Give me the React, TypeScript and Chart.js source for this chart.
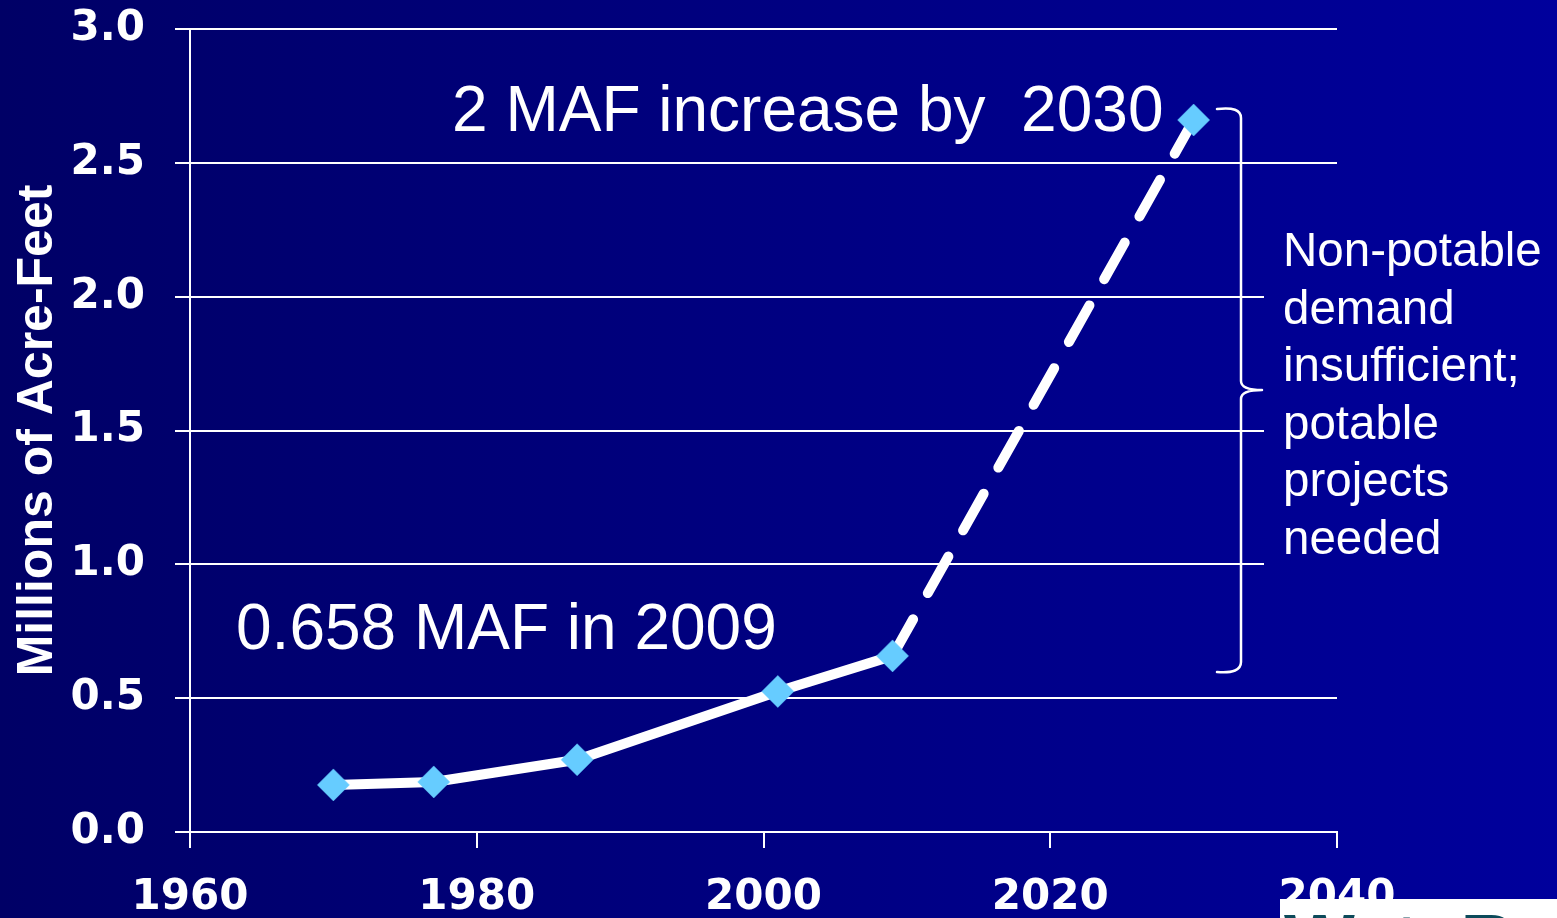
import React, { useEffect, useRef } from "react";
import { Chart, registerables } from "chart.js";

Chart.register(...registerables);

// ---- data ----
const years = [1970, 1977, 1987, 2001, 2009, 2030];
const maf = [0.176, 0.187, 0.27, 0.525, 0.658, 2.66];
const projectedFrom = 2009;
const yTicks = [0, 0.5, 1.0, 1.5, 2.0, 2.5, 3.0];
const xTicks = [1960, 1980, 2000, 2020, 2040];
const yTitle = "Millions of Acre-Feet";
const topNote = "2 MAF increase by  2030";
const bottomNote = "0.658 MAF in 2009";
const sideNote = ["Non-potable", "demand", "insufficient;", "potable", "projects", "needed"];
const logoText = "WateReuse";

const W = 1557;
const H = 918;

function bgGradient(ctx: CanvasRenderingContext2D) {
  const g = ctx.createLinearGradient(0, 0, W, 0);
  g.addColorStop(0, "#000066");
  g.addColorStop(1, "#00009c");
  return g;
}

const decoPlugin = {
  id: "deco",
  beforeDraw(chart: any) {
    const ctx: CanvasRenderingContext2D = chart.ctx;
    ctx.save();
    ctx.fillStyle = bgGradient(ctx);
    ctx.fillRect(0, 0, chart.width, chart.height);
    ctx.restore();
  },
  afterDraw(chart: any) {
    const ctx: CanvasRenderingContext2D = chart.ctx;
    ctx.save();
    // cover gridlines behind the side note
    ctx.fillStyle = bgGradient(ctx);
    ctx.fillRect(1264, 200, 90, 400);

    // bracket
    ctx.strokeStyle = "#ffffff";
    ctx.lineWidth = 2.5;
    ctx.lineCap = "round";
    ctx.beginPath();
    ctx.moveTo(1217, 109);
    ctx.quadraticCurveTo(1241, 106, 1241, 118);
    ctx.lineTo(1241, 381);
    ctx.quadraticCurveTo(1241, 390, 1262, 390);
    ctx.moveTo(1262, 390);
    ctx.quadraticCurveTo(1241, 390, 1241, 399);
    ctx.lineTo(1241, 662);
    ctx.quadraticCurveTo(1241, 674, 1217, 672);
    ctx.stroke();

    // notes
    ctx.fillStyle = "#ffffff";
    ctx.textBaseline = "alphabetic";
    ctx.textAlign = "left";
    ctx.font = "64px 'Liberation Sans', Arial, sans-serif";
    ctx.fillText(topNote, 452, 131);
    ctx.fillText(bottomNote, 236, 649);
    ctx.font = "47.5px 'Liberation Sans', Arial, sans-serif";
    sideNote.forEach((line, i) => ctx.fillText(line, 1283, 266 + i * 57.5));

    // logo (cut off at page bottom)
    ctx.fillStyle = "#ffffff";
    ctx.fillRect(1280, 899, W - 1280, H - 899);
    ctx.beginPath();
    ctx.rect(1280, 899, W - 1280, H - 899);
    ctx.clip();
    ctx.fillStyle = "#0c4a5a";
    ctx.font = "bold 75px 'Liberation Sans', Arial, sans-serif";
    ctx.fillText(logoText, 1284, 966);
    ctx.restore();
  },
};

export default function App() {
  const ref = useRef<HTMLCanvasElement | null>(null);

  useEffect(() => {
    document.body.style.margin = "0";
    const canvas = ref.current;
    if (!canvas) return;
    const chart = new Chart(canvas, {
      type: "line",
      data: {
        datasets: [
          {
            data: years.map((y, i) => ({ x: y, y: maf[i] })),
            borderColor: "#ffffff",
            borderWidth: 10,
            borderCapStyle: "round",
            borderJoinStyle: "round",
            pointStyle: "rectRot",
            pointRadius: 16,
            pointHoverRadius: 16,
            pointBackgroundColor: "#66ccff",
            pointBorderColor: "#66ccff",
            pointBorderWidth: 0.5,
            tension: 0,
            clip: false,
            segment: {
              borderDash: (c: any) =>
                years[c.p0DataIndex] >= projectedFrom ? [42, 30] : undefined,
            },
          } as any,
        ],
      },
      options: {
        animation: false,
        responsive: false,
        devicePixelRatio: 1,
        layout: { padding: { top: 29, right: 220, left: 0, bottom: 0 } },
        plugins: {
          legend: { display: false },
          tooltip: { enabled: false },
        },
        scales: {
          x: {
            type: "linear",
            min: 1960,
            max: 2040,
            afterBuildTicks: (s: any) => {
              s.ticks = xTicks.map((v) => ({ value: v }));
            },
            afterFit: (s: any) => {
              s.height = 86;
              s.paddingLeft = 0;
              s.paddingRight = 0;
            },
            ticks: {
              color: "#ffffff",
              font: { family: "'DejaVu Sans'", weight: "bold", size: 42 },
              padding: 25,
              maxRotation: 0,
              autoSkip: false,
              callback: (v: any) => String(v),
            },
            grid: {
              drawOnChartArea: false,
              drawTicks: true,
              tickLength: 16,
              color: "#ffffff",
              lineWidth: 2,
            },
            border: { color: "#ffffff", width: 2 },
          },
          y: {
            type: "linear",
            min: 0,
            max: 3,
            afterBuildTicks: (s: any) => {
              s.ticks = yTicks.map((v) => ({ value: v }));
            },
            afterFit: (s: any) => {
              s.width = 190;
              s.paddingTop = 0;
              s.paddingBottom = 0;
            },
            ticks: {
              color: "#ffffff",
              font: { family: "'DejaVu Sans'", weight: "bold", size: 42 },
              padding: 30,
              callback: (v: any) => Number(v).toFixed(1),
            },
            grid: {
              color: "#ffffff",
              lineWidth: 2,
              drawTicks: true,
              tickLength: 15,
            },
            border: { color: "#ffffff", width: 2 },
            title: {
              display: true,
              text: yTitle,
              color: "#ffffff",
              font: { family: "'Liberation Sans'", weight: "bold", size: 50 },
              padding: { top: 8, bottom: 0 },
            },
          },
        },
      },
      plugins: [decoPlugin],
    });
    return () => chart.destroy();
  }, []);

  return (
    <div style={{ width: W, height: H, position: "relative", overflow: "hidden" }}>
      <canvas ref={ref} width={W} height={H} style={{ display: "block", width: W, height: H }} />
    </div>
  );
}
